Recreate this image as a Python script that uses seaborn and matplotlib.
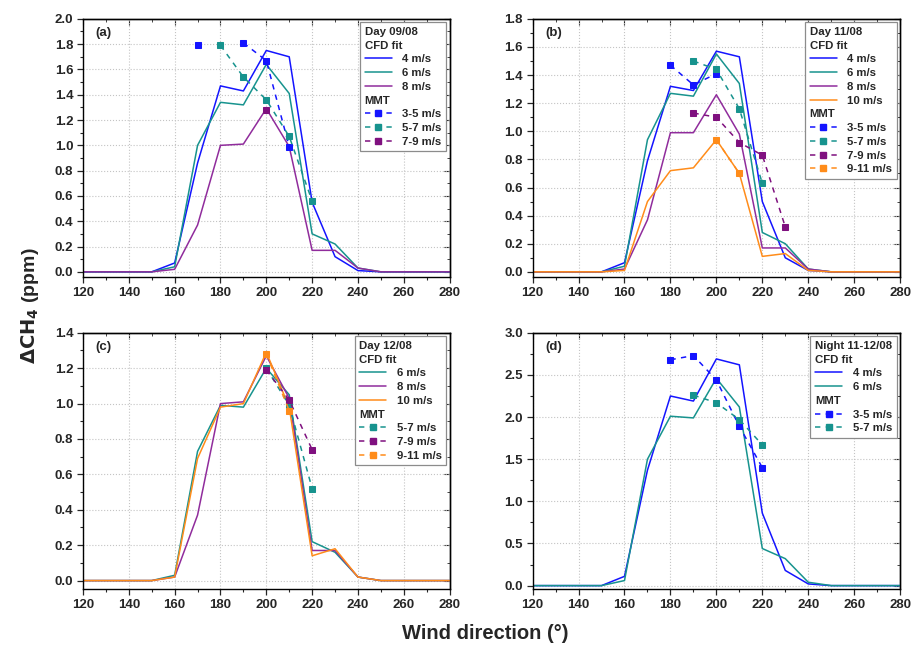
import numpy as np
import pandas as pd
import seaborn as sns
import matplotlib.pyplot as plt
from matplotlib.lines import Line2D
from matplotlib.ticker import MultipleLocator

# wind direction grid of the CFD fits
angles = list(range(120, 290, 10))

# (a) Day 09/08
a_4 = [0, 0, 0, 0, 0.07, 0.86, 1.47, 1.43, 1.75, 1.70, 0.55, 0.12, 0.01, 0, 0, 0, 0]
a_6 = [0, 0, 0, 0, 0.04, 1.00, 1.34, 1.32, 1.64, 1.41, 0.30, 0.22, 0.03, 0, 0, 0, 0]
a_8 = [0, 0, 0, 0, 0.02, 0.37, 1.00, 1.01, 1.29, 0.99, 0.17, 0.17, 0.03, 0, 0, 0, 0]
a_m35_x = [170, 180, 190, 200, 210]
a_m35_y = [1.79, np.nan, 1.81, 1.67, 0.99]
a_m57_x = [180, 190, 200, 210, 220]
a_m57_y = [1.79, 1.54, 1.36, 1.07, 0.56]
a_m79_x = [200]
a_m79_y = [1.28]

# (b) Day 11/08
b_4 = [0, 0, 0, 0, 0.065, 0.79, 1.32, 1.29, 1.57, 1.53, 0.50, 0.10, 0.01, 0, 0, 0, 0]
b_6 = [0, 0, 0, 0, 0.04, 0.94, 1.27, 1.25, 1.55, 1.34, 0.28, 0.20, 0.02, 0, 0, 0, 0]
b_8 = [0, 0, 0, 0, 0.02, 0.37, 0.99, 0.99, 1.26, 0.98, 0.17, 0.17, 0.02, 0, 0, 0, 0]
b_10 = [0, 0, 0, 0, 0.01, 0.50, 0.72, 0.74, 0.94, 0.70, 0.11, 0.13, 0.01, 0, 0, 0, 0]
b_m35_x = [180, 190, 200]
b_m35_y = [1.47, 1.33, 1.41]
b_m57_x = [190, 200, 210, 220]
b_m57_y = [1.50, 1.44, 1.16, 0.63]
b_m79_x = [190, 200, 210, 220, 230]
b_m79_y = [1.13, 1.10, 0.92, 0.83, 0.32]
b_m911_x = [200, 210]
b_m911_y = [0.94, 0.70]

# (c) Day 12/08
c_6 = [0, 0, 0, 0, 0.03, 0.73, 0.99, 0.98, 1.20, 1.05, 0.22, 0.16, 0.02, 0, 0, 0, 0]
c_8 = [0, 0, 0, 0, 0.02, 0.37, 1.00, 1.01, 1.27, 1.03, 0.17, 0.17, 0.02, 0, 0, 0, 0]
c_10 = [0, 0, 0, 0, 0.02, 0.69, 0.98, 1.00, 1.29, 0.98, 0.14, 0.18, 0.02, 0, 0, 0, 0]
c_m57_x = [200, 210, 220]
c_m57_y = [1.20, 0.99, 0.52]
c_m79_x = [200, 210, 220]
c_m79_y = [1.19, 1.02, 0.74]
c_m911_x = [200, 210]
c_m911_y = [1.28, 0.96]

# (d) Night 11-12/08
d_4 = [0, 0, 0, 0, 0.11, 1.37, 2.25, 2.19, 2.69, 2.62, 0.86, 0.18, 0.02, 0, 0, 0, 0]
d_6 = [0, 0, 0, 0, 0.06, 1.50, 2.01, 1.99, 2.46, 2.12, 0.44, 0.32, 0.04, 0, 0, 0, 0]
d_m35_x = [180, 190, 200, 210, 220]
d_m35_y = [2.68, 2.73, 2.44, 1.89, 1.40]
d_m57_x = [190, 200, 210, 220]
d_m57_y = [2.26, 2.17, 1.97, 1.67]

BLUE = '#1414ff'
TEAL = '#17938e'
PURPLE = '#902c9c'
ORANGE = '#ff8c1a'
MMT_PURPLE = '#7f107f'

sns.set_style('ticks')
plt.rcParams['font.family'] = ['Liberation Sans', 'DejaVu Sans']
plt.rcParams['font.weight'] = 'bold'
plt.rcParams['axes.linewidth'] = 1.0

DASH = (0, (3.5, 3.5))


def segments(xs, ys):
    # split a series at missing values so the dashed line breaks there
    df = pd.DataFrame({'x': xs, 'y': ys})
    grp = df['y'].isna().cumsum()
    for _, part in df[df['y'].notna()].groupby(grp[df['y'].notna()]):
        yield part


def draw_panel(ax, tag, day, cfd, mmt, ylim, ymajor):
    for lab, vals, col in cfd:
        sns.lineplot(x=angles, y=vals, ax=ax, color=col, lw=1.1, estimator=None)
    for lab, xs, ys, col in mmt:
        for part in segments(xs, ys):
            sns.lineplot(data=part, x='x', y='y', ax=ax, color=col, lw=1.1,
                         estimator=None, ls=DASH, marker='s', ms=5,
                         mec=col, mfc=col)

    ax.set_xlim(120, 280)
    ax.set_ylim(*ylim)
    ax.xaxis.set_major_locator(MultipleLocator(20))
    ax.xaxis.set_minor_locator(MultipleLocator(10))
    ax.yaxis.set_major_locator(MultipleLocator(ymajor))
    ax.yaxis.set_minor_locator(MultipleLocator(ymajor / 2))
    ax.yaxis.set_major_formatter('{x:.1f}')
    ax.tick_params(which='major', direction='out', length=4, width=0.9,
                   labelsize=9.5, pad=3)
    ax.tick_params(which='minor', direction='out', length=2.5, width=0.8)
    ax.grid(True, which='major', ls=':', color='#c4c4c4', lw=0.8)
    ax.set_xlabel('')
    ax.set_ylabel('')
    for sp in ax.spines.values():
        sp.set_visible(True)
        sp.set_color('black')

    top = ax.secondary_xaxis('top')
    top.xaxis.set_major_locator(MultipleLocator(20))
    top.xaxis.set_minor_locator(MultipleLocator(10))
    top.tick_params(which='both', direction='in', labeltop=False)
    top.tick_params(which='major', length=4)
    top.tick_params(which='minor', length=2.5)
    right = ax.secondary_yaxis('right')
    right.yaxis.set_major_locator(MultipleLocator(ymajor))
    right.yaxis.set_minor_locator(MultipleLocator(ymajor / 2))
    right.tick_params(which='both', direction='in', labelright=False)
    right.tick_params(which='major', length=4)
    right.tick_params(which='minor', length=2.5)

    ax.text(0.035, 0.945, tag, transform=ax.transAxes, fontsize=9.5,
            fontweight='bold', va='center', ha='left')

    blank = Line2D([], [], linestyle='none')
    handles = [blank, blank]
    labels = [day, 'CFD fit']
    for lab, vals, col in cfd:
        handles.append(Line2D([], [], color=col, lw=1.1))
        labels.append(lab)
    handles.append(blank)
    labels.append('MMT')
    for lab, xs, ys, col in mmt:
        handles.append(Line2D([], [], color=col, lw=1.1, ls=DASH,
                              marker='s', ms=5, mec=col, mfc=col))
        labels.append(lab)
    leg = ax.legend(handles, labels, loc='upper right', fontsize=8.2,
                    frameon=True, fancybox=False, edgecolor='#8c8c8c',
                    framealpha=1, borderaxespad=0.3, borderpad=0.4,
                    handlelength=2.4, handletextpad=0.9, labelspacing=0.33,
                    numpoints=1)
    leg.get_frame().set_linewidth(0.9)
    headers = {day, 'CFD fit', 'MMT'}
    for col in leg._legend_handle_box.get_children():
        for row in col.get_children():
            da, ta = row.get_children()
            if ta.get_text() in headers:
                da.set_width(0)
                row.sep = 0


fig = plt.figure(figsize=(9.12, 6.5), dpi=100)
ax_a = fig.add_axes([0.091, 0.574, 0.402, 0.397])
ax_b = fig.add_axes([0.584, 0.574, 0.403, 0.397])
ax_c = fig.add_axes([0.091, 0.094, 0.402, 0.394])
ax_d = fig.add_axes([0.584, 0.094, 0.403, 0.394])

draw_panel(ax_a, '(a)', 'Day 09/08',
           [('4 m/s', a_4, BLUE), ('6 m/s', a_6, TEAL), ('8 m/s', a_8, PURPLE)],
           [('3-5 m/s', a_m35_x, a_m35_y, BLUE),
            ('5-7 m/s', a_m57_x, a_m57_y, TEAL),
            ('7-9 m/s', a_m79_x, a_m79_y, MMT_PURPLE)],
           (-0.04, 2.0), 0.2)

draw_panel(ax_b, '(b)', 'Day 11/08',
           [('4 m/s', b_4, BLUE), ('6 m/s', b_6, TEAL), ('8 m/s', b_8, PURPLE),
            ('10 m/s', b_10, ORANGE)],
           [('3-5 m/s', b_m35_x, b_m35_y, BLUE),
            ('5-7 m/s', b_m57_x, b_m57_y, TEAL),
            ('7-9 m/s', b_m79_x, b_m79_y, MMT_PURPLE),
            ('9-11 m/s', b_m911_x, b_m911_y, ORANGE)],
           (-0.036, 1.8), 0.2)

draw_panel(ax_c, '(c)', 'Day 12/08',
           [('6 m/s', c_6, TEAL), ('8 m/s', c_8, PURPLE), ('10 m/s', c_10, ORANGE)],
           [('5-7 m/s', c_m57_x, c_m57_y, TEAL),
            ('7-9 m/s', c_m79_x, c_m79_y, MMT_PURPLE),
            ('9-11 m/s', c_m911_x, c_m911_y, ORANGE)],
           (-0.047, 1.4), 0.2)

draw_panel(ax_d, '(d)', 'Night 11-12/08',
           [('4 m/s', d_4, BLUE), ('6 m/s', d_6, TEAL)],
           [('3-5 m/s', d_m35_x, d_m35_y, BLUE),
            ('5-7 m/s', d_m57_x, d_m57_y, TEAL)],
           (-0.039, 3.0), 0.5)

fig.text(0.033, 0.53, r'$\mathbf{\Delta CH_4}$ (ppm)', rotation=90,
         fontsize=14, fontweight='bold', ha='center', va='center')
fig.text(0.532, 0.026, 'Wind direction (°)', fontsize=14.5,
         fontweight='bold', ha='center', va='center')

fig.savefig('out.png', dpi=100)
